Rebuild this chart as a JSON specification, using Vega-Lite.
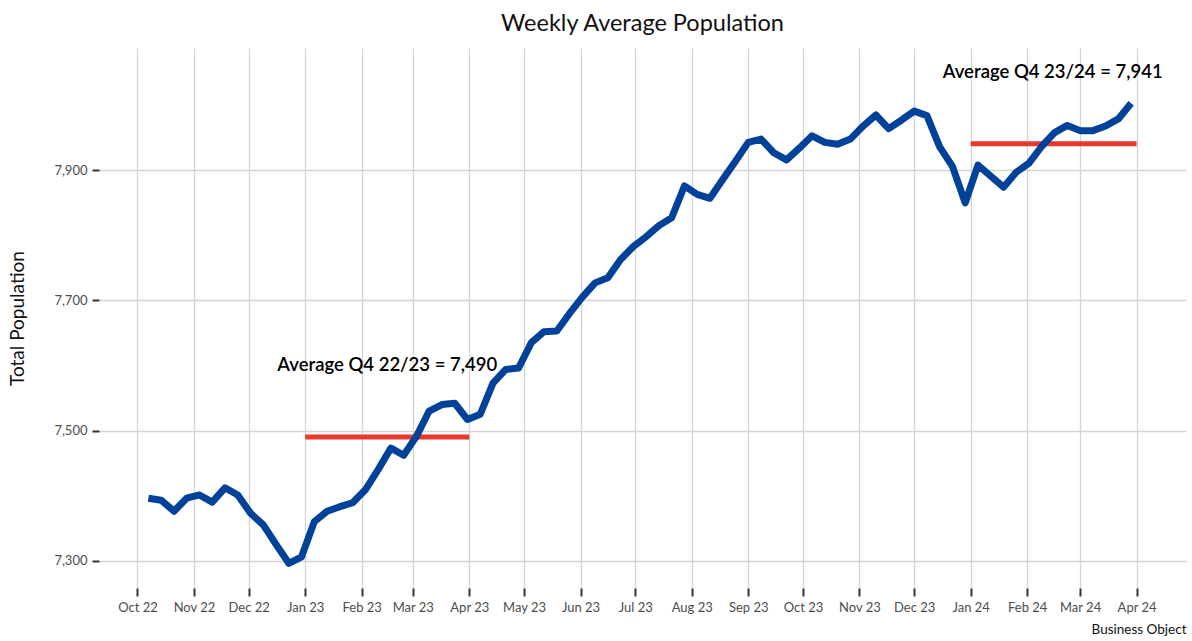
{
  "$schema": "https://vega.github.io/schema/vega-lite/v6.json",
  "autosize": "none",
  "width": 1087,
  "height": 540,
  "padding": {"left": 99, "top": 48, "right": 6, "bottom": 53},
  "background": "white",
  "config": {"font": "Lato", "view": {"stroke": null}},
  "title": {"text": "Weekly Average Population", "fontSize": 23.5, "fontWeight": "normal", "color": "#111111", "anchor": "middle", "frame": "group", "offset": 13},
  "datasets": {
    "weekly": [
      {"week": "2022-10-07", "population": 7396},
      {"week": "2022-10-14", "population": 7393},
      {"week": "2022-10-21", "population": 7376},
      {"week": "2022-10-28", "population": 7396},
      {"week": "2022-11-04", "population": 7401},
      {"week": "2022-11-11", "population": 7390},
      {"week": "2022-11-18", "population": 7412},
      {"week": "2022-11-25", "population": 7401},
      {"week": "2022-12-02", "population": 7373},
      {"week": "2022-12-09", "population": 7355},
      {"week": "2022-12-16", "population": 7325},
      {"week": "2022-12-23", "population": 7296},
      {"week": "2022-12-30", "population": 7306},
      {"week": "2023-01-06", "population": 7360},
      {"week": "2023-01-13", "population": 7376},
      {"week": "2023-01-20", "population": 7383},
      {"week": "2023-01-27", "population": 7389},
      {"week": "2023-02-03", "population": 7409},
      {"week": "2023-02-10", "population": 7440},
      {"week": "2023-02-17", "population": 7473},
      {"week": "2023-02-24", "population": 7462},
      {"week": "2023-03-03", "population": 7491},
      {"week": "2023-03-10", "population": 7530},
      {"week": "2023-03-17", "population": 7540},
      {"week": "2023-03-24", "population": 7542},
      {"week": "2023-03-31", "population": 7517},
      {"week": "2023-04-07", "population": 7525},
      {"week": "2023-04-14", "population": 7573},
      {"week": "2023-04-21", "population": 7594},
      {"week": "2023-04-28", "population": 7596},
      {"week": "2023-05-05", "population": 7635},
      {"week": "2023-05-12", "population": 7652},
      {"week": "2023-05-19", "population": 7653},
      {"week": "2023-05-26", "population": 7680},
      {"week": "2023-06-02", "population": 7705},
      {"week": "2023-06-09", "population": 7727},
      {"week": "2023-06-16", "population": 7735},
      {"week": "2023-06-23", "population": 7763},
      {"week": "2023-06-30", "population": 7783},
      {"week": "2023-07-07", "population": 7798},
      {"week": "2023-07-14", "population": 7815},
      {"week": "2023-07-21", "population": 7827},
      {"week": "2023-07-28", "population": 7876},
      {"week": "2023-08-04", "population": 7863},
      {"week": "2023-08-11", "population": 7857},
      {"week": "2023-08-18", "population": 7886},
      {"week": "2023-08-25", "population": 7914},
      {"week": "2023-09-01", "population": 7943},
      {"week": "2023-09-08", "population": 7948},
      {"week": "2023-09-15", "population": 7927},
      {"week": "2023-09-22", "population": 7916},
      {"week": "2023-09-29", "population": 7934},
      {"week": "2023-10-06", "population": 7953},
      {"week": "2023-10-13", "population": 7943},
      {"week": "2023-10-20", "population": 7940},
      {"week": "2023-10-27", "population": 7948},
      {"week": "2023-11-03", "population": 7968},
      {"week": "2023-11-10", "population": 7985},
      {"week": "2023-11-17", "population": 7964},
      {"week": "2023-11-24", "population": 7977},
      {"week": "2023-12-01", "population": 7991},
      {"week": "2023-12-08", "population": 7984},
      {"week": "2023-12-15", "population": 7936},
      {"week": "2023-12-22", "population": 7906},
      {"week": "2023-12-29", "population": 7850},
      {"week": "2024-01-05", "population": 7908},
      {"week": "2024-01-12", "population": 7891},
      {"week": "2024-01-19", "population": 7874},
      {"week": "2024-01-26", "population": 7897},
      {"week": "2024-02-02", "population": 7911},
      {"week": "2024-02-09", "population": 7937},
      {"week": "2024-02-16", "population": 7958},
      {"week": "2024-02-23", "population": 7969},
      {"week": "2024-03-01", "population": 7961},
      {"week": "2024-03-08", "population": 7961},
      {"week": "2024-03-15", "population": 7968},
      {"week": "2024-03-22", "population": 7979},
      {"week": "2024-03-29", "population": 8003}
    ],
    "quarters": [
      {"quarter": "Q4 22/23", "start": "2023-01-01", "end": "2023-04-01", "label_at": "2023-02-15", "average": 7490, "label": "Average Q4 22/23 = 7,490"},
      {"quarter": "Q4 23/24", "start": "2024-01-01", "end": "2024-04-01", "label_at": "2024-02-15", "average": 7941, "label": "Average Q4 23/24 = 7,941"}
    ]
  },
  "layer": [
    {
      "data": {"name": "quarters"},
      "mark": {"type": "rule", "color": "#e8392d", "strokeWidth": 5},
      "encoding": {
        "x": {
          "field": "start", "type": "temporal",
          "scale": {"type": "utc", "domain": [
            {"year": 2022, "month": 9, "date": 9, "hours": 21, "minutes": 36, "utc": true},
            {"year": 2024, "month": 4, "date": 28, "hours": 2, "minutes": 24, "utc": true}
          ]},
          "axis": {
            "title": "Business Object",
            "values": [
              {"year": 2022, "month": 10, "date": 1, "utc": true},
              {"year": 2022, "month": 11, "date": 1, "utc": true},
              {"year": 2022, "month": 12, "date": 1, "utc": true},
              {"year": 2023, "month": 1, "date": 1, "utc": true},
              {"year": 2023, "month": 2, "date": 1, "utc": true},
              {"year": 2023, "month": 3, "date": 1, "utc": true},
              {"year": 2023, "month": 4, "date": 1, "utc": true},
              {"year": 2023, "month": 5, "date": 1, "utc": true},
              {"year": 2023, "month": 6, "date": 1, "utc": true},
              {"year": 2023, "month": 7, "date": 1, "utc": true},
              {"year": 2023, "month": 8, "date": 1, "utc": true},
              {"year": 2023, "month": 9, "date": 1, "utc": true},
              {"year": 2023, "month": 10, "date": 1, "utc": true},
              {"year": 2023, "month": 11, "date": 1, "utc": true},
              {"year": 2023, "month": 12, "date": 1, "utc": true},
              {"year": 2024, "month": 1, "date": 1, "utc": true},
              {"year": 2024, "month": 2, "date": 1, "utc": true},
              {"year": 2024, "month": 3, "date": 1, "utc": true},
              {"year": 2024, "month": 4, "date": 1, "utc": true}
            ],
            "labelExpr": "utcFormat(datum.value, '%b %y')",
            "domain": false, "tickSize": 8, "tickWidth": 2, "tickColor": "#333333",
            "labelFontSize": 13, "labelColor": "#4d4d4d", "labelPadding": 5, "labelFlush": false, "labelOverlap": false,
            "gridColor": "#d4d4d4", "gridWidth": 1.3,
            "titleAnchor": "end", "titleFontSize": 13.5, "titleFontWeight": "normal", "titleColor": "#111111", "titlePadding": 8
          }
        },
        "x2": {"field": "end"},
        "y": {
          "field": "average", "type": "quantitative",
          "scale": {"domain": [7258, 8088], "nice": false, "zero": false},
          "axis": {
            "title": "Total Population",
            "values": [7300, 7500, 7700, 7900],
            "labelExpr": "format(datum.value, ',')",
            "domain": false, "tickSize": 7, "tickWidth": 2, "tickColor": "#333333",
            "labelFontSize": 13, "labelColor": "#4d4d4d", "labelPadding": 5,
            "gridColor": "#d4d4d4", "gridWidth": 1.3,
            "titleFontSize": 19, "titleFontWeight": "normal", "titleColor": "#111111", "titlePadding": 26
          }
        }
      }
    },
    {
      "data": {"name": "weekly"},
      "mark": {"type": "line", "color": "#00429a", "strokeWidth": 7, "strokeJoin": "round"},
      "encoding": {
        "x": {"field": "week", "type": "temporal"},
        "y": {"field": "population", "type": "quantitative"}
      }
    },
    {
      "data": {"name": "quarters"},
      "mark": {"type": "text", "fontSize": 18.5, "fontWeight": 600, "color": "#000000", "align": "center", "baseline": "middle", "dy": -72},
      "encoding": {
        "x": {"field": "label_at", "type": "temporal"},
        "y": {"field": "average", "type": "quantitative"},
        "text": {"field": "label"}
      }
    }
  ]
}
